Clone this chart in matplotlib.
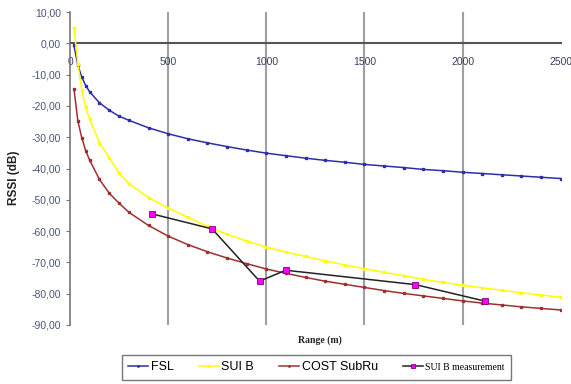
import numpy as np
import matplotlib
matplotlib.use("Agg")
import matplotlib.pyplot as plt
from matplotlib.ticker import FuncFormatter

# distances (m) at which the model curves were read
dist = [20, 40, 60, 80, 100, 150, 200, 250, 300, 400, 500, 600, 700, 800, 900,
        1000, 1100, 1200, 1300, 1400, 1500, 1600, 1700, 1800, 1900, 2000,
        2100, 2200, 2300, 2400, 2500]

fsl = [-0.7, -7.0, -10.8, -13.5, -15.5, -19.0, -21.4, -23.3, -24.6, -27.0,
       -28.9, -30.5, -31.8, -33.0, -34.1, -35.1, -35.9, -36.7, -37.4, -38.0,
       -38.7, -39.2, -39.7, -40.3, -40.7, -41.2, -41.6, -42.0, -42.4, -42.8, -43.2]

sui_b = [5.0, -6.5, -15.0, -20.5, -24.3, -31.8, -36.5, -41.5, -44.8, -49.3,
         -52.6, -55.6, -58.5, -61.0, -63.2, -65.1, -66.7, -68.1, -69.5, -70.8,
         -72.0, -73.2, -74.2, -75.4, -76.4, -77.3, -78.1, -78.9, -79.7, -80.4, -81.1]

cost = [-14.5, -24.8, -30.2, -34.3, -37.3, -43.5, -47.9, -51.1, -54.0, -58.2,
        -61.6, -64.3, -66.6, -68.6, -70.4, -72.1, -73.5, -74.8, -76.0, -77.0,
        -78.0, -79.0, -79.9, -80.7, -81.5, -82.3, -83.0, -83.6, -84.2, -84.7, -85.2]

# measured points
meas_d = [418, 724, 966, 1099, 1760, 2116]
meas_rssi = [-54.5, -59.3, -76.0, -72.5, -77.1, -82.4]

xticks = [0, 500, 1000, 1500, 2000, 2500]
yticks = list(range(-90, 11, 10))

fig = plt.figure(figsize=(5.71, 3.84), dpi=100)
ax = fig.add_axes([70/571, 1-325/384, (560.7-70)/571, (325-12)/384])

ax.plot(dist, fsl, color="#2e2ea8", lw=1.1, marker="s", ms=1.5, label="FSL")
ax.plot(dist, sui_b, color="#ffff00", lw=1.1, marker="s", ms=1.5, label="SUI B")
ax.plot(dist, cost, color="#a03030", lw=1.1, marker="s", ms=1.5, label="COST SubRu")
ax.plot(meas_d, meas_rssi, color="#222222", lw=1.1, marker="s", ms=4.5,
        mfc="#ff00ff", mec="#800080", mew=0.6, label="SUI B measurement")

ax.set_xlim(0, 2500)
ax.set_ylim(-90, 10)
ax.set_xticks(xticks)
ax.set_yticks(yticks)
ax.yaxis.set_major_formatter(FuncFormatter(lambda v, p: ("%.2f" % v).replace(".", ",")))

ax.spines["top"].set_visible(False)
ax.spines["right"].set_visible(False)
ax.spines["bottom"].set_position(("data", 0))
ax.spines["bottom"].set_color("#555555")
ax.spines["bottom"].set_linewidth(1.5)
ax.spines["left"].set_color("#777777")
ax.spines["left"].set_linewidth(1.2)
ax.spines["bottom"].set_zorder(1)

ax.grid(True, axis="x", color="#a0a0a0", lw=1.5, zorder=0)
ax.set_axisbelow(True)
gl = ax.get_xgridlines()
gl[0].set_visible(False)
gl[-1].set_visible(False)

ax.tick_params(axis="y", direction="out", length=3, color="#777777",
               labelsize=7.5, labelcolor="#4a5578")
ax.tick_params(axis="x", length=0, pad=10, labelsize=7.5, labelcolor="#3a4060")
for t in ax.get_xticklabels() + ax.get_yticklabels():
    t.set_family("Liberation Sans")

fig.text(14/571, 1-178/384, "RSSI (dB)", rotation=90, ha="center", va="center",
         fontsize=8.5, fontweight="bold", family="Liberation Sans", color="#222222")
fig.text(320/571, 1-340/384, "Range (m)", ha="center", va="center",
         fontsize=7, fontweight="bold", family="Liberation Serif", color="#222222")

leg = fig.legend(loc="upper left", bbox_to_anchor=(122/571, 0.0, (511-122)/571, 1-355/384),
                 mode="expand", ncol=4, fancybox=False, edgecolor="#555555",
                 prop={"family": "Liberation Sans", "size": 9},
                 handlelength=1.6, handletextpad=0.2, columnspacing=1.2,
                 borderpad=0.5, borderaxespad=0.0, markerscale=0.6)
leg.get_frame().set_linewidth(1.0)
leg.get_texts()[3].set_family("Liberation Serif")
leg.get_texts()[3].set_fontsize(7)

fig.savefig("out.png", dpi=100)
